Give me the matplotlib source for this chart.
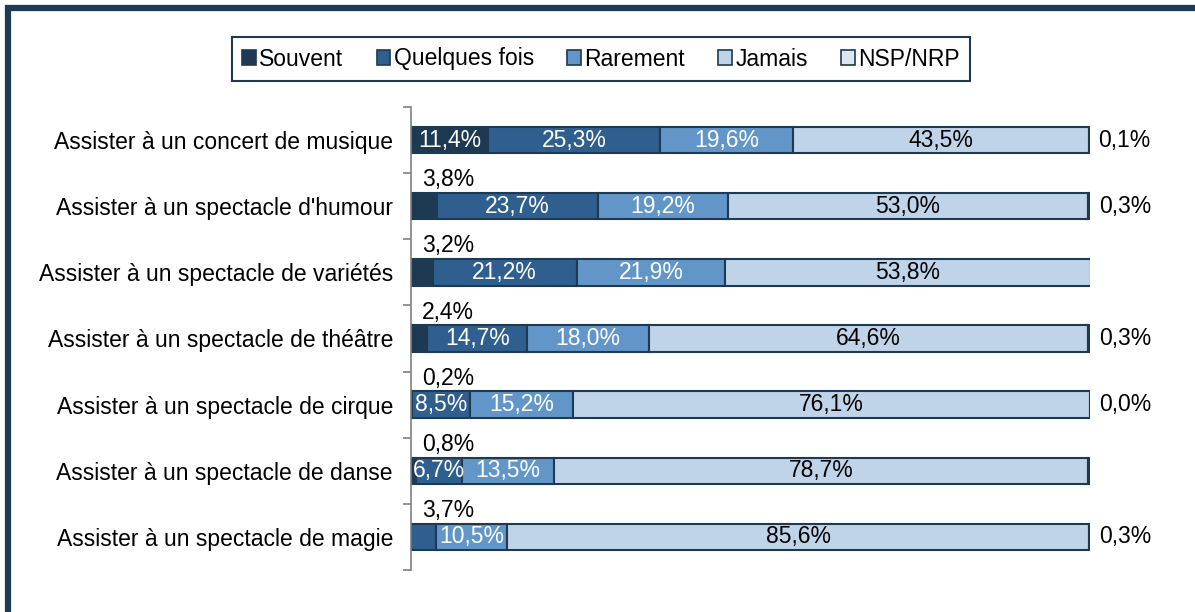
import matplotlib
matplotlib.use("Agg")
import matplotlib.pyplot as plt
from matplotlib.lines import Line2D
from matplotlib.patches import Patch
import numpy as np

plt.rcParams['font.family'] = ['Liberation Sans', 'DejaVu Sans']

categories = [
    "Assister à un concert de musique",
    "Assister à un spectacle d'humour",
    "Assister à un spectacle de variétés",
    "Assister à un spectacle de théâtre",
    "Assister à un spectacle de cirque",
    "Assister à un spectacle de danse",
    "Assister à un spectacle de magie",
]
series_names = ["Souvent", "Quelques fois", "Rarement", "Jamais", "NSP/NRP"]
souvent = [11.4, 3.8, 3.2, 2.4, 0.2, 0.8, 0.0]
quelques_fois = [25.3, 23.7, 21.2, 14.7, 8.5, 6.7, 3.7]
rarement = [19.6, 19.2, 21.9, 18.0, 15.2, 13.5, 10.5]
jamais = [43.5, 53.0, 53.8, 64.6, 76.1, 78.7, 85.6]
nsp = [0.1, 0.3, 0.0, 0.3, 0.0, 0.3, 0.3]
nsp_shown = [True, True, False, True, True, False, True]

colors = ["#1d3a52", "#2f5f8f", "#6296c9", "#bfd4e9", "#dce6f2"]
edge = "#1d3a52"

fig = plt.figure(figsize=(11.95, 6.12), dpi=100)
ax = fig.add_axes([411/1195, 1-570/612, (1090-411)/1195, (570-107)/612])

data = [souvent, quelques_fois, rarement, jamais, nsp]
y = np.arange(len(categories))
left = np.zeros(len(categories))
fs = 16.5
for si, vals in enumerate(data):
    vals = np.array(vals)
    ax.barh(y, vals, left=left, height=0.4, color=colors[si], edgecolor=edge,
            linewidth=1.5, label=series_names[si])
    for i, v in enumerate(vals):
        if si == 4:
            if nsp_shown[i]:
                ax.text(left[i] + v + 1.3, i, f"{v:.1f}%".replace('.', ','),
                        ha='left', va='center', fontsize=fs, color='black', clip_on=False)
        elif v <= 0:
            continue
        elif v < 5:
            ax.text(left[i] + 1.6, i - 0.40, f"{v:.1f}%".replace('.', ','),
                    ha='left', va='center', fontsize=fs, color='black')
        else:
            c = 'black' if si == 3 else 'white'
            ax.text(left[i] + v / 2, i, f"{v:.1f}%".replace('.', ','),
                    ha='center', va='center', fontsize=fs, color=c)
    left = left + vals

ax.set_xlim(0, 100)
ax.set_ylim(6.5, -0.5)
ax.set_yticks(y)
ax.set_yticklabels(categories, fontsize=fs)
ax.set_yticks(np.arange(-0.5, 7, 1), minor=True)
ax.tick_params(axis='y', which='major', length=0, pad=13)
ax.tick_params(axis='y', which='minor', length=6, width=1.2, color='#808080', direction='out')
ax.set_xticks([])
for s in ['top', 'right', 'bottom']:
    ax.spines[s].set_visible(False)
ax.spines['left'].set_color('#808080')
ax.spines['left'].set_linewidth(1.2)

handles = [Patch(facecolor=colors[i], edgecolor=edge, linewidth=1.2) for i in range(5)]
leg = fig.legend(handles, series_names, loc='center', bbox_to_anchor=(601/1195, 1-59/612),
                 ncol=5, fontsize=fs, frameon=True, fancybox=False, framealpha=1,
                 edgecolor=edge, handlelength=0.6, handleheight=0.6, handletextpad=0.15,
                 columnspacing=1.45, borderpad=0.45)
leg.get_frame().set_linewidth(1.5)

# outer frame (left and top edges visible)
fig.add_artist(Line2D([8/1195, 8/1195], [0, 1-5/612], transform=fig.transFigure,
                      color='#1e3b56', linewidth=4.5, solid_capstyle='butt'))
fig.add_artist(Line2D([5/1195, 1], [1-8/612, 1-8/612], transform=fig.transFigure,
                      color='#1e3b56', linewidth=4.5, solid_capstyle='butt'))

fig.savefig("out.png", dpi=100)
